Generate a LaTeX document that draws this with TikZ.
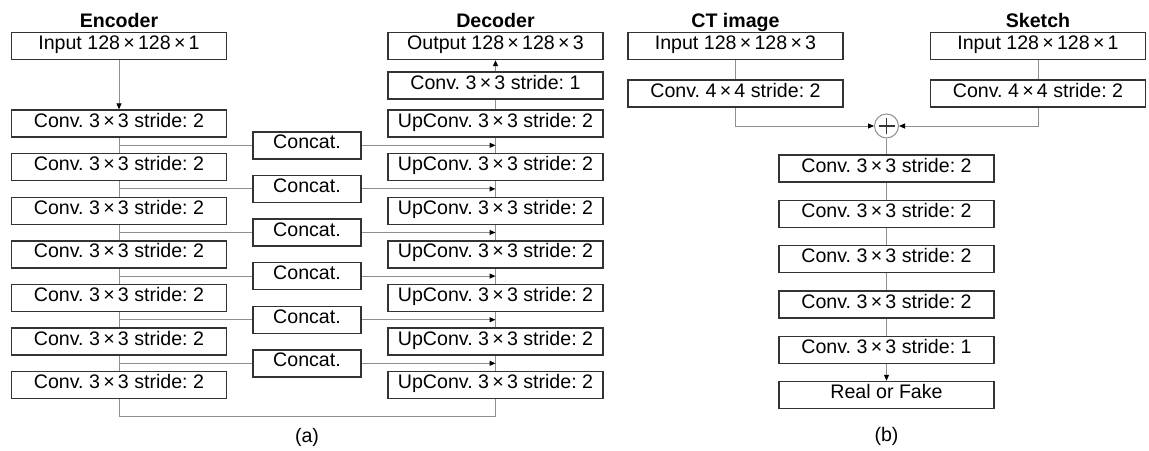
\documentclass[tikz,border=0pt]{standalone}
\usepackage{fontspec}
\setmainfont{Liberation Sans}
\usetikzlibrary{arrows.meta,calc}
\definecolor{boxc}{HTML}{333333}
\definecolor{linec}{HTML}{8F8F8F}
\frenchspacing
\begin{document}
\begin{tikzpicture}[x=1pt,y=-1pt,
  every node/.style={font=\fontsize{19.6}{23}\selectfont},
  blk/.style={draw=boxc, line width=1.4pt, minimum width=215pt, minimum height=27pt,
              inner sep=0pt, text height=0.72em, text depth=0pt, fill=white},
  cat/.style={blk, minimum width=108pt},
  ttl/.style={font=\fontsize{19.6}{23}\selectfont\bfseries, anchor=base},
  conn/.style={draw=linec, line width=1pt},
  arr/.style={conn, -{Triangle[length=6pt,width=5pt,color=black]}},
]
\useasboundingbox (0,0) rectangle (1149,450);

% ---------- (a) Encoder / Decoder ----------
\node[ttl] at (119,27) {Encoder};
\node[ttl] at (495.5,27) {Decoder};

\node[blk] (e0) at (119,46) {Input 128\,×\,128\,×\,1};
\foreach \i in {1,...,7}
  \node[blk] (e\i) at (119,{123.5+(\i-1)*43.6}) {Conv. 3\,×\,3 stride: 2};

\node[blk] (d0) at (495.5,46) {Output 128\,×\,128\,×\,3};
\node[blk] (dc) at (495.5,85.5) {Conv. 3\,×\,3 stride: 1};
\foreach \i in {1,...,7}
  \node[blk] (d\i) at (495.5,{123.5+(\i-1)*43.6}) {UpConv. 3\,×\,3 stride: 2};

\foreach \i in {1,...,6}
  \node[cat] (c\i) at (307,{123.5+(\i-0.5)*43.6}) {Concat.};

\draw[arr] (e0) -- (e1);
\foreach \i in {1,...,6}{
  \pgfmathtruncatemacro\j{\i+1}
  \draw[conn] (e\i) -- (e\j);
  \draw[conn] (d\i) -- (d\j);
  \draw[conn] (c\i.west -| e\i.south) -- (c\i.west);
  \draw[arr] (c\i.east) -- (c\i.east -| d\i.south);
}
\draw[conn] (d1) -- (dc);
\draw[arr] (dc) -- (d0);
\draw[conn] (e7.south) -- ++(0,17.5) -| (d7.south);

\node at (307,437) {(a)};

% ---------- (b) Discriminator ----------
\node[ttl] at (735.5,27) {CT image};
\node[ttl] at (1038,27) {Sketch};

\node[blk] (ct0) at (735.5,46) {Input 128\,×\,128\,×\,3};
\node[blk] (ct1) at (735.5,93.5) {Conv. 4\,×\,4 stride: 2};
\node[blk] (sk0) at (1038,46) {Input 128\,×\,128\,×\,1};
\node[blk] (sk1) at (1038,93.5) {Conv. 4\,×\,4 stride: 2};

\node[circle, draw=linec, line width=1pt, minimum size=24pt, inner sep=0pt] (p) at (886.5,126) {};
\draw[line width=1.1pt, black!80] ([xshift=-8pt]p.center) -- ([xshift=8pt]p.center);
\draw[line width=1.1pt, black!80] ([yshift=-8pt]p.center) -- ([yshift=8pt]p.center);

\foreach \i in {1,...,4}
  \node[blk] (g\i) at (886.5,{168.5+(\i-1)*45.3}) {Conv. 3\,×\,3 stride: 2};
\node[blk] (g5) at (886.5,349.7) {Conv. 3\,×\,3 stride: 1};
\node[blk] (rf) at (886.5,395) {Real or Fake};

\draw[conn] (ct0) -- (ct1);
\draw[conn] (sk0) -- (sk1);
\draw[arr] (ct1.south) |- (p.west);
\draw[arr] (sk1.south) |- (p.east);
\draw[conn] (p) -- (g1);
\foreach \i in {1,...,4}{
  \pgfmathtruncatemacro\j{\i+1}
  \draw[conn] (g\i) -- (g\j);
}
\draw[arr] (g5) -- (rf);

\node at (886.5,436) {(b)};
\end{tikzpicture}
\end{document}
